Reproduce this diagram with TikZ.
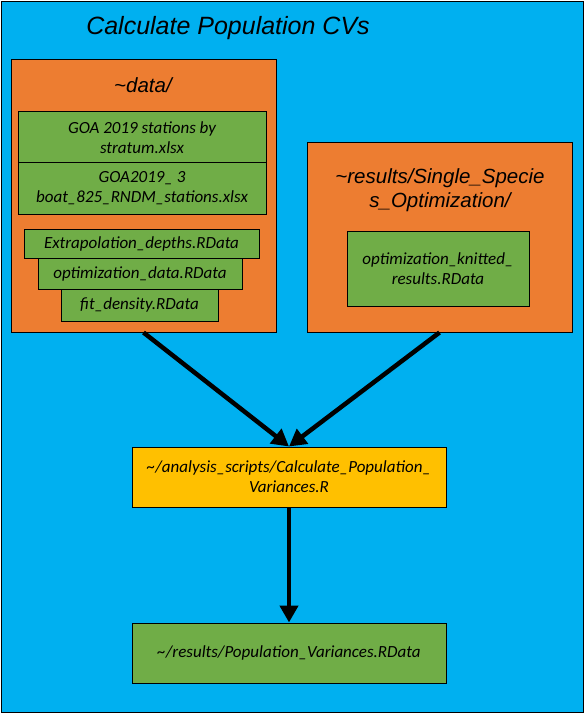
\documentclass[tikz,border=0pt]{standalone}
\usepackage{fontspec}
\setmainfont{Carlito}
\newfontfamily\headfont{Liberation Sans}
\usetikzlibrary{arrows.meta}
\definecolor{panelblue}{HTML}{00B0F0}
\definecolor{dirorange}{HTML}{ED7D31}
\definecolor{filegreen}{HTML}{70AD47}
\definecolor{scriptgold}{HTML}{FFC000}
\begin{document}
\begin{tikzpicture}[>={Triangle[length=17pt,width=18pt]}, x=1pt, y=-1pt]

\tikzstyle{folder}=[draw, fill=dirorange, line width=1pt, inner sep=0pt]
\tikzstyle{file}=[draw, fill=filegreen, line width=1pt, inner sep=0pt, align=center, font=\fontsize{17}{20}\selectfont\itshape]
\tikzstyle{script}=[draw, fill=scriptgold, line width=1pt, inner sep=0pt, align=center, font=\fontsize{17}{20}\selectfont\itshape]
\tikzstyle{heading}=[align=center, font=\headfont\fontsize{20.5}{24}\selectfont\itshape]
\tikzstyle{arrow}=[->, line width=4.5pt]

\useasboundingbox (0,0) rectangle (585,714);
\draw[fill=panelblue, line width=1pt] (1.5,1.5) rectangle (583.5,712.5);

% --- title ---
\node[heading, font=\headfont\fontsize{25}{30}\selectfont\itshape] (title) at (228,28) {Calculate Population CVs};

% --- data folder ---
\node[folder, minimum width=265pt, minimum height=272pt] (data) at (143.5,196) {};
\node[heading] (datatitle) at (143,85) {\textasciitilde data/};
\node[file, minimum width=248pt, minimum height=51pt] (goa1) at (142,137.5) {GOA 2019 stations by\\stratum.xlsx};
\node[file, minimum width=248pt, minimum height=51pt] (goa2) at (142,188.5) {GOA2019\_ 3\\boat\_825\_RNDM\_stations.xlsx};
\node[file, minimum width=235pt, minimum height=29pt] (extrap) at (141.5,243.5) {Extrapolation\_depths.RData};
\node[file, minimum width=204pt, minimum height=31pt] (optdata) at (140,273.5) {optimization\_data.RData};
\node[file, minimum width=157pt, minimum height=32pt] (fitdens) at (139.5,305) {fit\_density.RData};

% --- results folder ---
\node[folder, minimum width=265pt, minimum height=189pt] (results) at (439.5,237.5) {};
\node[heading] (restitle) at (440,190) {\textasciitilde results/Single\_Specie\\s\_Optimization/};
\node[file, minimum width=182pt, minimum height=75pt] (knitted) at (438,268.5) {optimization\_knitted\_\\results.RData};

% --- script and output ---
\node[script, minimum width=314pt, minimum height=60pt] (calc) at (289,477) {\textasciitilde/analysis\_scripts/Calculate\_Population\_\\Variances.R};
\node[file, minimum width=314pt, minimum height=60pt] (popvar) at (289,653) {\textasciitilde/results/Population\_Variances.RData};

\draw[arrow] (data.south) -- (calc.north);
\draw[arrow] (results.south) -- (calc.north);
\draw[arrow] (calc.south) -- (popvar.north);

\end{tikzpicture}
\end{document}
